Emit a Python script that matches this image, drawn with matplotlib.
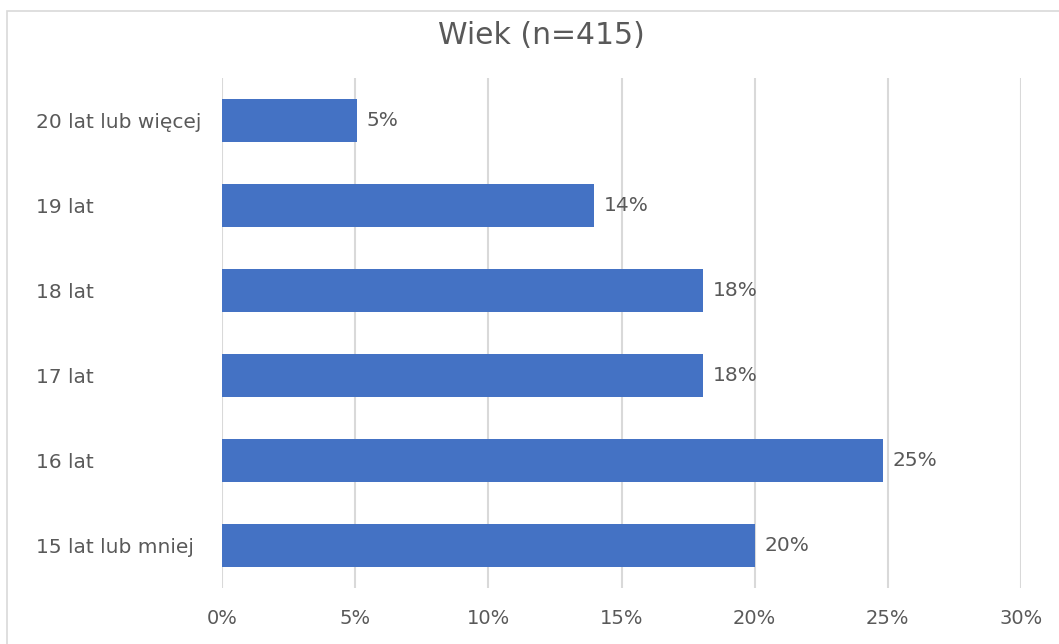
import matplotlib
matplotlib.use("Agg")
import matplotlib.pyplot as plt
from matplotlib.patches import Rectangle

# categories bottom -> top
categories = ["15 lat lub mniej", "16 lat", "17 lat", "18 lat", "19 lat", "20 lat lub więcej"]
shares = [20.0, 24.82, 18.07, 18.07, 13.98, 5.06]  # % of n=415
value_labels = ["20%", "25%", "18%", "18%", "14%", "5%"]
x_ticks = [0, 5, 10, 15, 20, 25, 30]
x_ticklabels = ["0%", "5%", "10%", "15%", "20%", "25%", "30%"]

text_col = "#595959"
bar_col = "#4472C4"
grid_col = "#D9D9D9"

plt.rcParams['font.family'] = ['DejaVu Sans']

fig = plt.figure(figsize=(10.59, 6.44), dpi=100)
# chart border (only top/left visible in the crop)
fig.patches.append(Rectangle((7/1059, -0.1), 1.2, (644-11)/644 + 0.1, transform=fig.transFigure,
                             fill=False, edgecolor=grid_col, linewidth=1.2))

ax = fig.add_axes([222/1059, (644-588)/644, (1021-222)/1059, (588-78)/644])
ypos = range(len(categories))
ax.barh(ypos, shares, height=0.5, color=bar_col, zorder=3)
for y, v, lab in zip(ypos, shares, value_labels):
    ax.annotate(lab, (v, y), xytext=(7, 0), textcoords='offset points',
                va='center', ha='left', fontsize=14.5, color=text_col)

ax.set_xlim(0, 30)
ax.set_ylim(-0.5, len(categories) - 0.5)
ax.set_xticks(x_ticks)
ax.set_xticklabels(x_ticklabels, fontsize=14)
ax.set_yticks(list(ypos))
ax.set_yticklabels(categories, fontsize=14.5)
ax.tick_params(axis='both', length=0, labelcolor=text_col)
ax.tick_params(axis='x', pad=15)
ax.tick_params(axis='y', pad=(222 - 36) * 0.72)
for t in ax.get_yticklabels():
    t.set_horizontalalignment('left')
ax.grid(axis='x', color=grid_col, linewidth=1.5, zorder=0)
for s in ax.spines.values():
    s.set_visible(False)

fig.text(541/1059, 1 - 35/644, "Wiek (n=415)", ha='center', va='center', fontsize=21.5, color=text_col)

fig.savefig("out.png", dpi=100)
